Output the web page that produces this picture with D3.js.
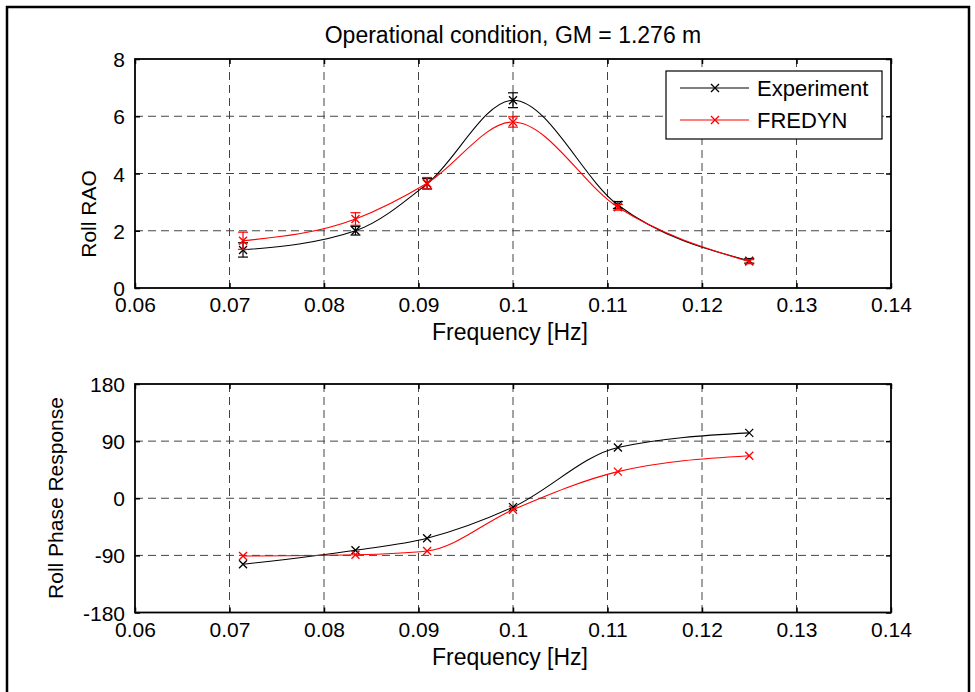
<!DOCTYPE html>
<html><head><meta charset="utf-8">
<script src="https://cdn.jsdelivr.net/npm/d3@7"></script>
<style>body{margin:0;background:#fff} text{font-family:"Liberation Sans",Arial,sans-serif;fill:#000}</style>
</head><body>
<svg id="c" width="975" height="692"></svg>
<script>
const title = "Operational condition, GM = 1.276 m";
const freq = [0.07143, 0.08333, 0.09091, 0.1, 0.1111, 0.125];
const raoExp = [1.33, 2.0, 3.64, 6.56, 2.9, 0.95];
const raoExpErr = [0.25, 0.15, 0.18, 0.26, 0.12, 0.08];
const raoFre = [1.65, 2.41, 3.66, 5.8, 2.82, 0.92];
const raoFreErr = [0.3, 0.22, 0.2, 0.18, 0.1, 0.07];
const phaseExp = [-104, -82, -63, -14, 80, 103];
const phaseFre = [-91, -89, -83, -18, 42, 67];
const xTicks = [0.06, 0.07, 0.08, 0.09, 0.1, 0.11, 0.12, 0.13, 0.14];
const raoTicks = [0, 2, 4, 6, 8];
const phaseTicks = [-180, -90, 0, 90, 180];
const seriesNames = ["Experiment", "FREDYN"];
const seriesColors = ["#000000", "#ff0000"];

const svg = d3.select("#c");
svg.append("rect").attr("x", 0).attr("y", 0).attr("width", 975).attr("height", 692).attr("fill", "#fff");
svg.append("rect").attr("x", 7).attr("y", 7).attr("width", 962).attr("height", 700)
  .attr("fill", "none").attr("stroke", "#000").attr("stroke-width", 2.5);

const X0 = 135, X1 = 891;
const x = d3.scaleLinear().domain([0.06, 0.14]).range([X0, X1]);
const fmtX = d => String(+d.toFixed(2));

svg.append("text").attr("x", 513).attr("y", 43).attr("text-anchor", "middle")
  .style("font-size", "23px").text(title);

function panel(top, bottom, domain, ticks, ylabel, ylabelX, ylabelY, series, errs) {
  const y = d3.scaleLinear().domain(domain).range([bottom, top]);
  const g = svg.append("g");
  g.selectAll(".gx").data(xTicks.slice(1, -1)).join("line")
    .attr("x1", d => x(d)).attr("x2", d => x(d)).attr("y1", top).attr("y2", bottom)
    .attr("stroke", "#444").attr("stroke-dasharray", "8,5").attr("stroke-width", 1);
  g.selectAll(".gy").data(ticks.slice(1, -1)).join("line")
    .attr("y1", d => y(d)).attr("y2", d => y(d)).attr("x1", X0).attr("x2", X1)
    .attr("stroke", "#444").attr("stroke-dasharray", "8,5").attr("stroke-width", 1);
  const ab = d3.axisBottom(x).tickValues(xTicks).tickSizeInner(-5).tickSizeOuter(0).tickPadding(9).tickFormat(fmtX);
  const at = d3.axisTop(x).tickValues(xTicks).tickSizeInner(-5).tickSizeOuter(0).tickFormat("");
  const al = d3.axisLeft(y).tickValues(ticks).tickSizeInner(-5).tickSizeOuter(0).tickPadding(10).tickFormat(d => String(d));
  const ar = d3.axisRight(y).tickValues(ticks).tickSizeInner(-5).tickSizeOuter(0).tickFormat("");
  const gb = g.append("g").attr("transform", `translate(0,${bottom})`).call(ab);
  const gt = g.append("g").attr("transform", `translate(0,${top})`).call(at);
  const gl = g.append("g").attr("transform", `translate(${X0},0)`).call(al);
  const gr = g.append("g").attr("transform", `translate(${X1},0)`).call(ar);
  [gb, gt, gl, gr].forEach(a => {
    a.select(".domain").remove();
    a.selectAll("line").attr("stroke", "#000").attr("stroke-width", 1.5);
    a.selectAll("text").style("font-size", "21px").attr("font-family", null);
  });
  gb.selectAll("text").attr("dy", "0.72em");
  gl.selectAll("text").attr("dy", "0.36em");
  g.append("rect").attr("x", X0).attr("y", top).attr("width", X1 - X0).attr("height", bottom - top)
    .attr("fill", "none").attr("stroke", "#000").attr("stroke-width", 1.8);
  g.append("text").attr("x", 510).attr("y", bottom + 52).attr("text-anchor", "middle")
    .style("font-size", "23px").text("Frequency [Hz]");
  g.append("text").attr("transform", `translate(${ylabelX},${ylabelY}) rotate(-90)`)
    .attr("text-anchor", "middle").style("font-size", "21px").text(ylabel);
  const line = d3.line().x((d, i) => x(freq[i])).y(d => y(d)).curve(d3.curveMonotoneX);
  series.forEach((s, k) => {
    const c = seriesColors[k];
    g.append("path").attr("d", line(s)).attr("fill", "none").attr("stroke", c).attr("stroke-width", 1.1);
    if (errs) {
      const e = errs[k];
      s.forEach((v, i) => {
        const px = x(freq[i]);
        const a = y(v - e[i]), b = y(v + e[i]);
        g.append("line").attr("x1", px).attr("x2", px).attr("y1", a).attr("y2", b).attr("stroke", c).attr("stroke-width", 1.2);
        [a, b].forEach(yy => g.append("line").attr("x1", px - 5).attr("x2", px + 5).attr("y1", yy).attr("y2", yy).attr("stroke", c).attr("stroke-width", 1.2));
      });
    }
    s.forEach((v, i) => {
      const px = x(freq[i]), py = y(v), r = 4;
      g.append("path").attr("d", `M${px - r},${py - r}L${px + r},${py + r}M${px - r},${py + r}L${px + r},${py - r}`)
        .attr("stroke", c).attr("stroke-width", 1.3).attr("fill", "none");
    });
  });
  return y;
}

panel(59, 288, [0, 8], raoTicks, "Roll RAO", 96, 214, [raoExp, raoFre], [raoExpErr, raoFreErr]);
panel(384, 612.5, [-180, 180], phaseTicks, "Roll Phase Response", 63, 498, [phaseExp, phaseFre], null);

const lg = svg.append("g");
lg.append("rect").attr("x", 666).attr("y", 71).attr("width", 216).attr("height", 68)
  .attr("fill", "#fff").attr("stroke", "#000").attr("stroke-width", 1.2);
seriesNames.forEach((n, k) => {
  const yy = 88 + k * 32, c = seriesColors[k], r = 4;
  lg.append("line").attr("x1", 680).attr("x2", 749).attr("y1", yy).attr("y2", yy).attr("stroke", c).attr("stroke-width", 1.1);
  lg.append("path").attr("d", `M${715 - r},${yy - r}L${715 + r},${yy + r}M${715 - r},${yy + r}L${715 + r},${yy - r}`)
    .attr("stroke", c).attr("stroke-width", 1.3);
  lg.append("text").attr("x", 757).attr("y", yy).attr("dy", "0.36em").style("font-size", "22px").text(n);
});
</script>
</body></html>
